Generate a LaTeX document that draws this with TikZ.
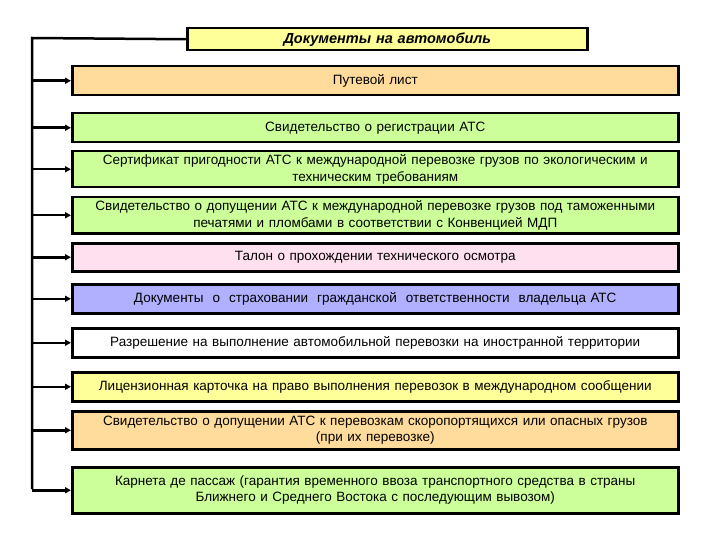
\documentclass[tikz,border=0pt]{standalone}
\usepackage{fontspec}
\setmainfont{Liberation Sans}
\usetikzlibrary{arrows.meta}
\definecolor{cor}{HTML}{FFDB9C}
\definecolor{cgr}{HTML}{CCFF99}
\definecolor{cpk}{HTML}{FFE0EE}
\definecolor{cpu}{HTML}{B0B0FF}
\definecolor{cye}{HTML}{FFFF99}
\begin{document}
\begin{tikzpicture}[x=1pt,y=-1pt,
 doc/.style={draw=black,line width=2.5pt,minimum width=606pt,text width=596pt,align=center,inner sep=1pt,font=\fontsize{13.5}{16.5}\selectfont,anchor=north west},
 link/.style={line width=2.5pt,-{Triangle[length=6pt,width=6pt]}}]
\useasboundingbox (0,0) rectangle (720,540);
\node[doc,fill=cye,minimum width=400pt,text width=390pt,minimum height=22pt,font=\fontsize{14.5}{16}\selectfont\bfseries\itshape] (t) at (186,27) {Документы на автомобиль};
\node[doc,fill=cor,minimum height=29pt] (b1) at (71,65) {Путевой лист};
\node[doc,fill=cgr,minimum height=29pt] (b2) at (71,112) {Свидетельство о регистрации АТС};
\node[doc,fill=cgr,minimum height=36pt] (b3) at (71,150) {Сертификат пригодности АТС к международной перевозке грузов по экологическим и\\ техническим требованиям};
\node[doc,fill=cgr,minimum height=36pt] (b4) at (71,196) {Свидетельство о допущении АТС к международной перевозке грузов под таможенными\\ печатями и пломбами в соответствии с Конвенцией МДП};
\node[doc,fill=cpk,minimum height=28pt] (b5) at (71,242) {Талон о прохождении технического осмотра};
\node[doc,fill=cpu,minimum height=29pt] (b6) at (71,283) {Документы \ о \ страховании \ гражданской \ ответственности \ владельца АТС};
\node[doc,fill=white,minimum height=29pt] (b7) at (71,327) {Разрешение на выполнение автомобильной перевозки на иностранной территории};
\node[doc,fill=cye,minimum height=29pt] (b8) at (71,371) {Лицензионная карточка на право выполнения перевозок в международном сообщении};
\node[doc,fill=cor,minimum height=38pt] (b9) at (71,410) {Свидетельство о допущении АТС к перевозкам скоропортящихся или опасных грузов\\ (при их перевозке)};
\node[doc,fill=cgr,minimum height=46pt] (b10) at (71,466) {Карнета де пассаж (гарантия временного ввоза транспортного средства в страны\\ Ближнего и Среднего Востока с последующим вывозом)};
\coordinate (top) at (32,38);
\draw[line width=2.5pt] (t.west) -- (top) -- (32,489);
\foreach \b in {b1,b2,b3,b4,b5,b6,b7,b8,b9,b10}
 \draw[link] (32,0 |- \b.west) -- (\b.west);
\end{tikzpicture}
\end{document}
